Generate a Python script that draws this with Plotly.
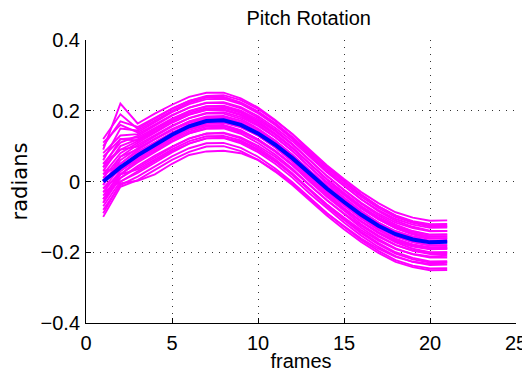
import plotly.graph_objects as go

frames = list(range(1, 22))

mean_pitch = [0.000, 0.040, 0.074, 0.104, 0.132, 0.156, 0.171, 0.173, 0.160, 0.136, 0.104,
              0.066, 0.022, -0.020, -0.058, -0.094, -0.125, -0.149, -0.164, -0.172, -0.170]

trial_curves = [
    [0.12, 0.19, 0.149, 0.178, 0.206, 0.228, 0.242, 0.244, 0.230, 0.205, 0.172, 0.134, 0.089, 0.046, 0.007, -0.030, -0.061, -0.087, -0.102, -0.111, -0.110],
    [0.09, 0.22, 0.164, 0.192, 0.217, 0.239, 0.251, 0.251, 0.235, 0.209, 0.174, 0.134, 0.087, 0.043, 0.002, -0.037, -0.070, -0.097, -0.114, -0.125, -0.125],
    [0.10, 0.17, 0.154, 0.181, 0.206, 0.228, 0.240, 0.239, 0.223, 0.197, 0.162, 0.121, 0.074, 0.029, -0.011, -0.050, -0.084, -0.111, -0.128, -0.139, -0.140],
    [0.06, 0.15, 0.144, 0.173, 0.200, 0.223, 0.237, 0.238, 0.223, 0.198, 0.165, 0.126, 0.081, 0.038, -0.001, -0.038, -0.070, -0.096, -0.112, -0.121, -0.120],
    [0.08, 0.13, 0.134, 0.162, 0.188, 0.209, 0.222, 0.222, 0.207, 0.180, 0.146, 0.106, 0.060, 0.016, -0.025, -0.063, -0.096, -0.122, -0.140, -0.150, -0.150],
    [0.05, 0.11, 0.129, 0.158, 0.186, 0.209, 0.223, 0.224, 0.210, 0.185, 0.152, 0.114, 0.069, 0.026, -0.013, -0.050, -0.081, -0.106, -0.122, -0.131, -0.130],
    [0.07, 0.12, 0.124, 0.152, 0.178, 0.199, 0.212, 0.212, 0.197, 0.170, 0.136, 0.096, 0.050, 0.006, -0.035, -0.073, -0.106, -0.132, -0.150, -0.160, -0.160],
    [0.03, 0.10, 0.119, 0.148, 0.176, 0.199, 0.213, 0.214, 0.200, 0.175, 0.142, 0.104, 0.059, 0.016, -0.023, -0.060, -0.091, -0.116, -0.132, -0.141, -0.140],
    [0.04, 0.09, 0.114, 0.142, 0.168, 0.189, 0.202, 0.202, 0.187, 0.160, 0.126, 0.086, 0.040, -0.004, -0.045, -0.083, -0.116, -0.142, -0.160, -0.170, -0.170],
    [0.02, 0.08, 0.109, 0.138, 0.166, 0.189, 0.203, 0.204, 0.190, 0.165, 0.132, 0.094, 0.049, 0.006, -0.033, -0.070, -0.101, -0.126, -0.142, -0.151, -0.150],
    [0.01, 0.07, 0.104, 0.132, 0.158, 0.179, 0.192, 0.192, 0.177, 0.150, 0.116, 0.076, 0.030, -0.014, -0.055, -0.093, -0.126, -0.152, -0.170, -0.180, -0.180],
    [0.05, 0.09, 0.099, 0.128, 0.156, 0.179, 0.194, 0.196, 0.182, 0.157, 0.125, 0.086, 0.041, -0.001, -0.039, -0.076, -0.107, -0.132, -0.148, -0.156, -0.155],
    [-0.01, 0.06, 0.094, 0.122, 0.148, 0.169, 0.182, 0.182, 0.167, 0.140, 0.106, 0.066, 0.020, -0.024, -0.065, -0.103, -0.136, -0.162, -0.180, -0.190, -0.190],
    [0.02, 0.05, 0.089, 0.119, 0.146, 0.170, 0.184, 0.185, 0.172, 0.147, 0.115, 0.076, 0.031, -0.011, -0.050, -0.087, -0.118, -0.143, -0.158, -0.167, -0.165],
    [0.00, 0.05, 0.084, 0.112, 0.138, 0.159, 0.172, 0.172, 0.157, 0.130, 0.096, 0.056, 0.010, -0.034, -0.075, -0.113, -0.146, -0.172, -0.190, -0.200, -0.200],
    [-0.02, 0.04, 0.079, 0.109, 0.137, 0.161, 0.177, 0.179, 0.166, 0.143, 0.111, 0.073, 0.030, -0.012, -0.050, -0.086, -0.116, -0.140, -0.155, -0.162, -0.160],
    [0.03, 0.04, 0.074, 0.103, 0.130, 0.153, 0.167, 0.168, 0.155, 0.130, 0.097, 0.058, 0.014, -0.029, -0.068, -0.105, -0.137, -0.162, -0.178, -0.186, -0.185],
    [-0.03, 0.03, 0.069, 0.097, 0.124, 0.146, 0.159, 0.160, 0.145, 0.119, 0.086, 0.046, 0.000, -0.043, -0.083, -0.121, -0.153, -0.179, -0.196, -0.205, -0.205],
    [0.01, 0.03, 0.064, 0.095, 0.123, 0.148, 0.163, 0.166, 0.153, 0.130, 0.098, 0.061, 0.018, -0.024, -0.061, -0.097, -0.127, -0.151, -0.165, -0.173, -0.170],
    [-0.04, 0.02, 0.059, 0.087, 0.114, 0.136, 0.149, 0.150, 0.135, 0.109, 0.076, 0.036, -0.010, -0.053, -0.093, -0.131, -0.163, -0.189, -0.206, -0.215, -0.215],
    [-0.02, 0.02, 0.054, 0.084, 0.112, 0.136, 0.151, 0.153, 0.140, 0.116, 0.084, 0.046, 0.002, -0.040, -0.078, -0.114, -0.145, -0.169, -0.184, -0.192, -0.190],
    [-0.05, 0.01, 0.044, 0.073, 0.099, 0.122, 0.135, 0.136, 0.122, 0.096, 0.063, 0.023, -0.022, -0.065, -0.105, -0.142, -0.174, -0.200, -0.216, -0.226, -0.225],
    [-0.06, 0.01, 0.039, 0.069, 0.097, 0.121, 0.136, 0.138, 0.125, 0.101, 0.070, 0.032, -0.011, -0.052, -0.090, -0.125, -0.156, -0.180, -0.195, -0.202, -0.200],
    [-0.03, 0.00, 0.029, 0.058, 0.086, 0.108, 0.122, 0.123, 0.108, 0.083, 0.050, 0.011, -0.034, -0.076, -0.116, -0.153, -0.185, -0.211, -0.227, -0.236, -0.235],
    [-0.07, 0.00, 0.024, 0.054, 0.082, 0.107, 0.122, 0.124, 0.112, 0.088, 0.057, 0.019, -0.024, -0.065, -0.102, -0.137, -0.167, -0.191, -0.205, -0.212, -0.210],
    [-0.08, -0.01, 0.014, 0.043, 0.071, 0.094, 0.108, 0.109, 0.095, 0.070, 0.037, -0.002, -0.046, -0.089, -0.128, -0.165, -0.196, -0.222, -0.238, -0.246, -0.245],
    [-0.10, -0.015, 0.004, 0.033, 0.061, 0.084, 0.099, 0.100, 0.086, 0.061, 0.028, -0.010, -0.054, -0.096, -0.135, -0.171, -0.202, -0.227, -0.242, -0.251, -0.250],
    [-0.09, -0.005, 0.002, 0.020, 0.050, 0.075, 0.085, 0.087, 0.080, 0.061, 0.030, -0.006, -0.049, -0.090, -0.126, -0.161, -0.190, -0.213, -0.227, -0.233, -0.230],
    [0.11, 0.16, 0.139, 0.168, 0.196, 0.219, 0.233, 0.234, 0.219, 0.193, 0.160, 0.121, 0.076, 0.033, -0.006, -0.043, -0.075, -0.101, -0.117, -0.127, -0.127],
    [0.04, 0.12, 0.116, 0.146, 0.172, 0.194, 0.207, 0.208, 0.194, 0.168, 0.134, 0.095, 0.050, 0.007, -0.032, -0.070, -0.103, -0.129, -0.146, -0.155, -0.155],
    [-0.01, 0.07, 0.091, 0.120, 0.145, 0.166, 0.179, 0.179, 0.165, 0.139, 0.106, 0.067, 0.022, -0.021, -0.061, -0.098, -0.131, -0.156, -0.172, -0.181, -0.180],
    [-0.05, 0.03, 0.064, 0.092, 0.119, 0.141, 0.155, 0.157, 0.143, 0.119, 0.087, 0.049, 0.005, -0.037, -0.076, -0.112, -0.143, -0.167, -0.182, -0.190, -0.188],
    [-0.06, 0.02, 0.034, 0.063, 0.091, 0.114, 0.128, 0.129, 0.116, 0.091, 0.058, 0.019, -0.026, -0.069, -0.109, -0.146, -0.178, -0.204, -0.220, -0.229, -0.228],
]

x_ticks = [0, 5, 10, 15, 20, 25]
y_ticks = [-0.4, -0.2, 0, 0.2, 0.4]

fig = go.Figure()
for curve in trial_curves:
    fig.add_trace(go.Scatter(x=frames, y=curve, mode="lines",
                             line=dict(color="#FF00FF", width=1.9),
                             showlegend=False, hoverinfo="skip"))
fig.add_trace(go.Scatter(x=frames, y=mean_pitch, mode="lines",
                         line=dict(color="#0000FF", width=4),
                         showlegend=False))

font_main = "Liberation Sans, Arial, sans-serif"
axis_common = dict(
    showgrid=True, gridcolor="#333333", griddash="1px,6px", gridwidth=1,
    zeroline=False, showline=True, linecolor="black", linewidth=1,
    ticks="inside", ticklen=5, tickcolor="black", automargin=False,
    tickfont=dict(family=font_main, size=20, color="black"),
)

# the page body adds an 8px offset, so the figure is sized to fit the window
fig.update_layout(
    width=522, height=367,
    margin=dict(l=78, r=14, t=32, b=52),
    paper_bgcolor="white", plot_bgcolor="white",
    title=dict(text="Pitch Rotation", x=0.576, xanchor="center",
               y=0.973, yref="container", yanchor="middle",
               font=dict(family=font_main, size=20, color="black")),
    xaxis=dict(range=[0, 25], tickvals=x_ticks, ticklabelstandoff=2,
               title=dict(text="frames", standoff=0,
                          font=dict(family=font_main, size=20, color="black")),
               **axis_common),
    yaxis=dict(range=[-0.4, 0.4], tickvals=y_ticks, ticklabelstandoff=1,
               title=dict(text="radians", standoff=7,
                          font=dict(family="DejaVu Sans, sans-serif", size=21, color="black")),
               **axis_common),
)

fig.write_html("out.html")
